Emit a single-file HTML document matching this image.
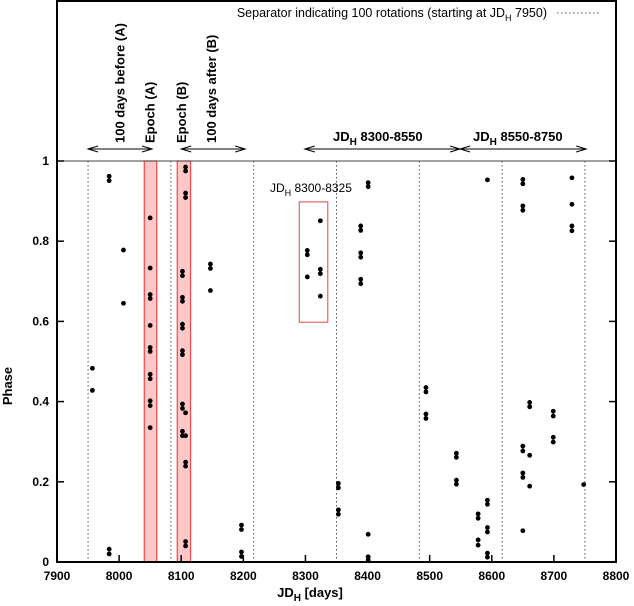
<!DOCTYPE html>
<html><head><meta charset="utf-8"><style>
body{margin:0;background:#fff}
svg{display:block}
text{font-family:"Liberation Sans",Arial,sans-serif}
</style></head><body>
<svg id="chart" width="634" height="606" viewBox="0 0 634 606" xmlns="http://www.w3.org/2000/svg"></svg>
<script>
const xTicks=[7900,8000,8100,8200,8300,8400,8500,8600,8700,8800];
const yTicks=[0,0.2,0.4,0.6,0.8,1];
const yTickLabels=["0","0.2","0.4","0.6","0.8","1"];
const separators=[7950,8083.3,8216.7,8350,8483.3,8616.7,8750];
const epochBands=[[8040.5,8060.5],[8093.6,8115]];
const ptsJD=[7957,7957,7984,7984,7984,7984,8007,8007,
8050,8050,8050,8050,8050,8050,8050,8050,8050,8050,8050,8050,
8102,8102,8102,8102,8102,8102,8102,8102,8102,8102,8102,8102,
8107,8107,8107,8107,8107,8107,8107,8107,8107,8107,
8147,8147,8147,8197,8197,8197,8197,
8303,8303,8303,8324,8324,8324,8324,
8353,8353,8353,8353,8389,8389,8389,8389,8389,8389,
8401,8401,8401,8401,8401,8494,8494,8494,8494,8543,8543,8543,8543,
8578,8578,8578,8578,8593,8593,8593,8593,8593,8593,8593,
8650,8650,8650,8650,8650,8650,8650,8650,8650,8661,8661,8661,8661,
8699,8699,8699,8699,8729,8729,8729,8729,8748];
const ptsPhase=[0.483,0.428,0.962,0.951,0.032,0.02,0.778,0.645,
0.858,0.733,0.667,0.657,0.59,0.535,0.525,0.468,0.457,0.402,0.39,0.335,
0.725,0.714,0.66,0.65,0.593,0.583,0.527,0.517,0.394,0.383,0.326,0.315,
0.985,0.975,0.92,0.909,0.372,0.315,0.249,0.239,0.051,0.04,
0.743,0.732,0.677,0.092,0.081,0.025,0.014,
0.777,0.766,0.711,0.851,0.73,0.719,0.663,
0.196,0.185,0.13,0.119,0.838,0.827,0.771,0.76,0.705,0.694,
0.946,0.936,0.069,0.013,0.005,0.435,0.424,0.369,0.358,0.271,0.261,0.204,0.194,
0.12,0.109,0.055,0.042,0.953,0.154,0.144,0.086,0.075,0.022,0.012,
0.954,0.943,0.888,0.877,0.289,0.277,0.222,0.211,0.078,0.398,0.387,0.266,0.189,
0.376,0.364,0.311,0.299,0.958,0.892,0.838,0.826,0.193];
const rangeArrows=[[7950,8053],[8100,8203],[8299,8549],[8549,8752]];

const NS="http://www.w3.org/2000/svg";
const svg=document.getElementById('chart');
const X0=57,X1=616,Y0=562,Y1=161;
const xs=v=>X0+(v-7900)/900*(X1-X0);
const ys=v=>Y0-v*(Y0-Y1);
function mk(tag,attrs,parent){const e=document.createElementNS(NS,tag);for(const k in attrs)e.setAttribute(k,attrs[k]);(parent||svg).appendChild(e);return e;}

epochBands.forEach((b,i)=>{
 const r=mk('rect',{x:xs(b[0]),y:Y1,width:xs(b[1])-xs(b[0]),height:Y0-Y1,fill:'#ffc8c8',stroke:'#f04848','stroke-width':1.2});
 
 
});
separators.forEach(s=>{
 const l=mk('line',{x1:xs(s),x2:xs(s),y1:Y1,y2:Y0,stroke:'#555','stroke-width':1,'stroke-dasharray':'1.5,2.5'});
 
 
});
const bx=mk('rect',{x:xs(8290),y:ys(0.898),width:xs(8336)-xs(8290),height:ys(0.598)-ys(0.898),fill:'none',stroke:'#e04848','stroke-width':1});


const bt=mk('text',{x:270,y:192,'font-size':12});
bt.innerHTML='JD<tspan font-size="9" dy="4">H</tspan><tspan dy="-4"> 8300-8325</tspan>';



const pl=mk('line',{x1:X0,x2:X1,y1:Y1,y2:Y1,stroke:'#444','stroke-width':1});


const fr=mk('rect',{x:X0,y:1,width:X1-X0,height:Y0-1,fill:'none',stroke:'#000','stroke-width':2});



xTicks.forEach(t=>{
 const l=mk('line',{x1:xs(t),x2:xs(t),y1:Y0,y2:Y0-7,stroke:'#000','stroke-width':1.5});
 
 
 const tx=mk('text',{x:xs(t),y:Y0+18,'font-size':12,'font-weight':'bold','text-anchor':'middle'});
 tx.textContent=t;
 
 
});
yTicks.forEach((t,i)=>{
 const l=mk('line',{x1:X0,x2:X0+7,y1:ys(t),y2:ys(t),stroke:'#000','stroke-width':1.5});
 
 
 const l2=mk('line',{x1:X1,x2:X1-7,y1:ys(t),y2:ys(t),stroke:'#000','stroke-width':1.5});
 
 
 const tx=mk('text',{x:X0-8,y:ys(t)+4,'font-size':12,'font-weight':'bold','text-anchor':'end'});
 tx.textContent=yTickLabels[i];
 
 
});

ptsJD.forEach((j,i)=>{
 const c=mk('circle',{cx:xs(j),cy:ys(ptsPhase[i]),r:2.4,fill:'#000'});
 
 
});

function arrowHead(x,y,dir){return mk('path',{d:`M${x+dir*10},${y-3} L${x},${y} L${x+dir*10},${y+3}`,fill:'none',stroke:'#000','stroke-width':1});}
rangeArrows.forEach(a=>{
 const x1=xs(a[0]),x2=xs(a[1]),y=149;
 const l=mk('line',{x1:x1,x2:x2,y1:y,y2:y,stroke:'#000','stroke-width':1});
 
 
 const h1=arrowHead(x1,y,1);
 
 
 const h2=arrowHead(x2,y,-1);
 
 
});
</script>
<svg style="position:absolute;left:0;top:0" width="634" height="606" xmlns="http://www.w3.org/2000/svg">
<g font-family="Liberation Sans, Arial, sans-serif">
<text transform="translate(124.5,143) rotate(-90)" font-size="13" font-weight="bold">100 days before (A)</text>
<text transform="translate(154.5,143) rotate(-90)" font-size="13" font-weight="bold">Epoch (A)</text>
<text transform="translate(186,143) rotate(-90)" font-size="13" font-weight="bold">Epoch (B)</text>
<text transform="translate(216,143) rotate(-90)" font-size="13" font-weight="bold">100 days after (B)</text>
<text x="333" y="141" font-size="13" font-weight="bold">JD<tspan font-size="10" dy="4">H</tspan><tspan dy="-4"> 8300-8550</tspan></text>
<text x="473" y="141" font-size="13" font-weight="bold">JD<tspan font-size="10" dy="4">H</tspan><tspan dy="-4"> 8550-8750</tspan></text>
<text x="547" y="17" font-size="12.5" text-anchor="end">Separator indicating 100 rotations (starting at JD<tspan font-size="9" dy="4">H</tspan><tspan dy="-4"> 7950)</tspan></text>
<line x1="557" x2="600" y1="13" y2="13" stroke="#555" stroke-dasharray="1.5,2.5"/>
<text transform="translate(12,386) rotate(-90)" font-size="13" font-weight="bold" text-anchor="middle">Phase</text>
<text x="310" y="597" font-size="13" font-weight="bold" text-anchor="middle">JD<tspan font-size="10" dy="4">H</tspan><tspan dy="-4"> [days]</tspan></text>
</g>
</svg>
</body></html>
